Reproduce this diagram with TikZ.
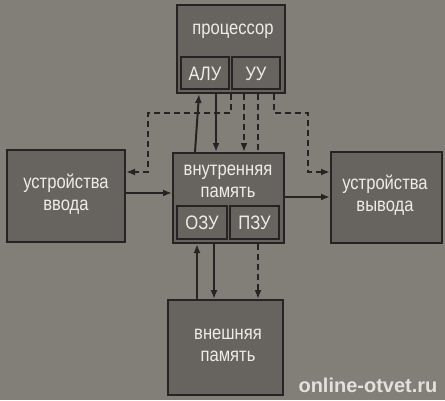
\documentclass[tikz,border=0pt]{standalone}
\usepackage{fontspec}
\setmainfont{Liberation Sans}[FakeStretch=0.85]
\newfontfamily\wmfont{Liberation Sans}
\usetikzlibrary{arrows.meta,calc}
\definecolor{bgc}{HTML}{827E78}
\definecolor{boxc}{HTML}{67645F}
\definecolor{linec}{HTML}{262422}
\definecolor{txtc}{HTML}{EEECE8}
\pgfdeclarelayer{back}
\pgfdeclarelayer{bg}
\pgfsetlayers{back,bg,main}
\tikzset{
  blk/.style={draw=linec, fill=boxc, line width=2pt, inner sep=0pt},
  lbl/.style={text=txtc, align=center, font=\fontsize{19.5}{22}\selectfont, inner sep=0pt},
  conn/.style={draw=linec, line width=2pt, -{Latex[length=9pt,width=7pt]}},
  dsh/.style={dash pattern=on 6pt off 4pt},
}
\begin{document}
\begin{tikzpicture}[x=1pt,y=-1pt]
\begin{pgfonlayer}{back}
\fill[bgc] (0,0) rectangle (445,400);
\end{pgfonlayer}
\useasboundingbox (0,0) rectangle (445,400);
% processor
\node[blk, minimum width=108pt, minimum height=88pt] (proc) at (231,49) {};
\node[lbl] (proclbl) at (233,31) {процессор};
\node[blk, minimum width=48pt, minimum height=32pt] (alu) at (205,73) {};
\node[lbl] (alulbl) at (205,74) {АЛУ};
\node[blk, minimum width=48pt, minimum height=32pt] (uu) at (256,73) {};
\node[lbl] (uulbl) at (256,74) {УУ};
% input
\node[blk, minimum width=118pt, minimum height=92pt] (inp) at (66,196) {};
\node[lbl] (inplbl) at (66,194) {устройства\\ввода};
% output
\node[blk, minimum width=111pt, minimum height=91pt] (outp) at (386.5,197.5) {};
\node[lbl] (outplbl) at (385,195) {устройства\\вывода};
% internal memory
\node[blk, minimum width=111pt, minimum height=90pt] (mem) at (228.5,198) {};
\node[lbl] (memlbl) at (228,181) {внутренняя\\память};
\node[blk, minimum width=50pt, minimum height=33pt] (ozu) at (202,222.5) {};
\node[lbl] (ozulbl) at (202,223) {ОЗУ};
\node[blk, minimum width=49pt, minimum height=33pt] (pzu) at (254.5,222.5) {};
\node[lbl] (pzulbl) at (254.5,223) {ПЗУ};
% external memory
\node[blk, minimum width=115pt, minimum height=95pt] (ext) at (225.5,347.5) {};
\node[lbl] (extlbl) at (228,345) {внешняя\\память};
% watermark
\node[text=txtc!90!bgc, inner sep=0pt, font=\wmfont\bfseries\fontsize{20}{24}\selectfont] (wm) at (368,385) {online-otvet.ru};
% connectors
\begin{pgfonlayer}{bg}
\draw[conn] ([xshift=23pt]mem.north west) -- ([xshift=23pt]proc.south west);
\draw[conn] ([xshift=40pt]proc.south west) -- ([xshift=40pt]proc.south west |- mem.north);
\draw[conn,dsh] ([xshift=68pt]proc.south west) -- ([xshift=68pt]proc.south west |- mem.north);
\draw[conn,dsh] ([xshift=82pt]proc.south west) -- ([xshift=82pt]proc.south west |- ext.north);
\coordinate (lt) at (148,113);
\coordinate (rt) at (308,113);
\draw[conn,dsh] ([xshift=55pt]proc.south west) |- (lt) -- (lt |- 0,172) -- (inp.east |- 0,172);
\draw[conn,dsh] ([xshift=98pt]proc.south west) |- (rt) -- (rt |- 0,172) -- (outp.west |- 0,172);
\draw[conn] (inp.east |- 0,193) -- (mem.west |- 0,193);
\draw[conn] (mem.east |- 0,197) -- (outp.west |- 0,197);
\draw[conn] ([xshift=30pt]ext.north west) -- ([xshift=30pt]ext.north west |- mem.south);
\draw[conn] ([xshift=47pt]ext.north west |- mem.south) -- ([xshift=47pt]ext.north west);
\end{pgfonlayer}
\end{tikzpicture}
\end{document}
